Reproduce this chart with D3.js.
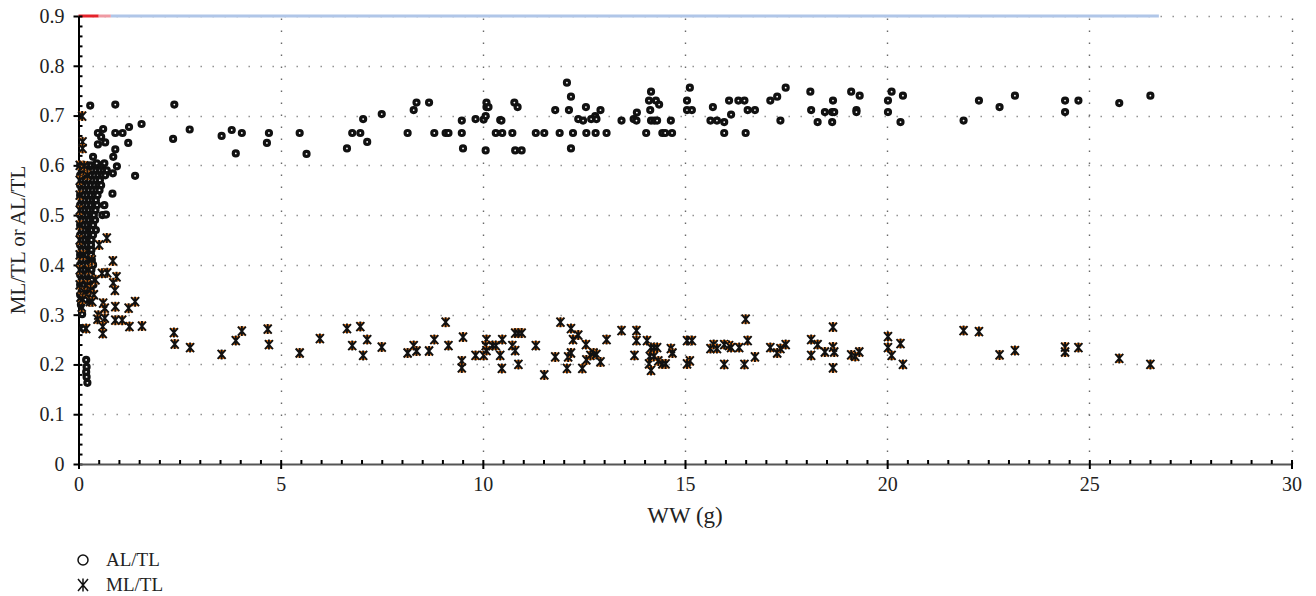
<!DOCTYPE html>
<html>
<head>
<meta charset="utf-8">
<script src="https://cdn.jsdelivr.net/npm/d3@7"></script>
<style>
  html, body { margin: 0; padding: 0; background: #fff; }
  svg { display: block; }
  text { font-family: "Liberation Serif", "DejaVu Serif", serif; fill: #222; }
</style>
</head>
<body>
<svg id="chart" width="1316" height="596"></svg>
<script>
// ---------- data ----------
const xTicks = [0, 5, 10, 15, 20, 25, 30];
const xTickLabels = ["0", "5", "10", "15", "20", "25", "30"];
const yTicks = [0, 0.1, 0.2, 0.3, 0.4, 0.5, 0.6, 0.7, 0.8, 0.9];
const yTickLabels = ["0", "0.1", "0.2", "0.3", "0.4", "0.5", "0.6", "0.7", "0.8", "0.9"];
const seriesNames = ["AL/TL", "ML/TL"];
const xTitle = "WW (g)";
const yTitle = "ML/TL or AL/TL";

// top reference line at 0.9 : breakpoints in WW units
const topLineBreaks = [0, 0.5, 0.8, 26.72];

// AL/TL points [WW, ratio]
const alData = [
  // dense cluster of small fish
  [0.04,0.60],[0.13,0.60],[0.22,0.60],[0.31,0.60],[0.40,0.60],[0.49,0.60],[0.58,0.60],
  [0.08,0.59],[0.17,0.59],[0.26,0.59],[0.35,0.59],[0.44,0.59],[0.53,0.59],[0.62,0.59],[0.70,0.59],
  [0.04,0.58],[0.13,0.58],[0.22,0.58],[0.31,0.58],[0.40,0.58],[0.49,0.58],[0.58,0.58],[0.66,0.58],
  [0.08,0.57],[0.17,0.57],[0.26,0.57],[0.35,0.57],[0.44,0.57],[0.53,0.57],
  [0.04,0.56],[0.13,0.56],[0.22,0.56],[0.31,0.56],[0.40,0.56],[0.49,0.56],[0.56,0.56],
  [0.08,0.55],[0.17,0.55],[0.26,0.55],[0.35,0.55],[0.44,0.55],[0.52,0.55],
  [0.04,0.54],[0.13,0.54],[0.22,0.54],[0.31,0.54],[0.40,0.54],[0.47,0.54],
  [0.08,0.53],[0.17,0.53],[0.26,0.53],[0.35,0.53],[0.43,0.53],
  [0.04,0.52],[0.13,0.52],[0.22,0.52],[0.31,0.52],[0.40,0.52],[0.46,0.52],
  [0.08,0.51],[0.17,0.51],[0.26,0.51],[0.35,0.51],[0.42,0.51],
  [0.04,0.50],[0.13,0.50],[0.22,0.50],[0.31,0.50],[0.38,0.50],
  [0.08,0.49],[0.17,0.49],[0.26,0.49],[0.35,0.49],[0.41,0.49],
  [0.04,0.48],[0.13,0.48],[0.22,0.48],[0.31,0.48],[0.36,0.48],
  [0.08,0.47],[0.17,0.47],[0.26,0.47],[0.33,0.47],
  [0.04,0.46],[0.13,0.46],[0.22,0.46],[0.31,0.46],[0.36,0.46],
  [0.08,0.45],[0.17,0.45],[0.26,0.45],[0.32,0.45],
  [0.04,0.44],[0.13,0.44],[0.22,0.44],[0.31,0.44],
  [0.08,0.43],[0.17,0.43],[0.26,0.43],[0.32,0.43],
  [0.04,0.42],[0.13,0.42],[0.22,0.42],[0.31,0.42],
  [0.08,0.41],[0.17,0.41],[0.26,0.41],[0.33,0.41],
  [0.04,0.40],[0.13,0.40],[0.22,0.40],[0.31,0.40],[0.36,0.40],
  [0.08,0.39],[0.17,0.39],[0.26,0.39],[0.32,0.39],
  [0.04,0.38],[0.13,0.38],[0.22,0.38],[0.31,0.38],
  [0.08,0.37],[0.17,0.37],[0.26,0.37],[0.33,0.37],
  [0.04,0.36],[0.13,0.36],[0.22,0.36],[0.31,0.36],[0.37,0.36],
  [0.08,0.35],[0.17,0.35],[0.26,0.35],[0.30,0.35],
  [0.04,0.34],[0.13,0.34],[0.22,0.34],
  [0.08,0.33],[0.17,0.33],[0.06,0.32],
  // small fish outside the cluster
  [0.29,0.720],[0.91,0.722],[2.37,0.722],[2.75,0.672],[2.34,0.653],
  [0.48,0.665],[0.61,0.673],[0.56,0.657],[0.66,0.646],[0.48,0.642],
  [0.91,0.665],[1.09,0.665],[1.25,0.677],[1.56,0.683],[1.23,0.645],[0.91,0.632],
  [0.86,0.617],[0.36,0.617],[0.45,0.604],[0.64,0.604],[0.95,0.598],[0.85,0.584],[1.40,0.579],
  [0.84,0.543],[0.64,0.520],[0.59,0.500],[0.68,0.501],[0.43,0.470],
  [0.09,0.301],[0.12,0.272],[0.19,0.209],[0.20,0.195],[0.19,0.185],[0.20,0.175],[0.22,0.163],
  // larger fish
  [3.54,0.659],[3.79,0.671],[3.89,0.624],[4.04,0.665],[4.71,0.665],[4.66,0.645],
  [5.47,0.665],[5.64,0.623],[6.64,0.634],[6.77,0.665],[6.97,0.665],[7.14,0.647],[7.04,0.693],
  [7.50,0.703],[8.29,0.711],[8.36,0.726],[8.67,0.726],[8.14,0.665],[8.80,0.665],[9.08,0.665],[9.15,0.665],
  [9.48,0.665],[9.48,0.690],[9.51,0.634],[9.82,0.693],[10.02,0.692],[10.07,0.699],[10.09,0.717],[10.09,0.726],
  [10.14,0.717],[10.07,0.630],[10.43,0.691],[10.46,0.690],[10.32,0.665],[10.48,0.665],[10.73,0.665],
  [10.78,0.726],[10.86,0.717],[10.80,0.630],[10.96,0.630],[11.31,0.665],[11.52,0.665],
  [12.08,0.766],[12.18,0.738],[11.79,0.711],[12.13,0.711],[12.55,0.717],[12.91,0.711],
  [12.36,0.693],[12.48,0.690],[12.68,0.693],[12.78,0.699],[12.81,0.693],
  [11.90,0.665],[12.23,0.665],[12.56,0.665],[12.79,0.665],[13.06,0.665],[12.18,0.634],
  [13.43,0.690],[13.73,0.693],[13.80,0.690],[13.81,0.706],[14.04,0.665],[14.16,0.748],
  [14.11,0.730],[14.28,0.730],[14.36,0.722],[14.14,0.711],[14.16,0.690],[14.24,0.690],[14.31,0.690],
  [14.44,0.665],[14.51,0.665],[14.68,0.665],[14.65,0.690],[15.12,0.756],[15.05,0.730],
  [15.05,0.711],[15.17,0.711],[15.63,0.690],[15.79,0.690],[15.97,0.687],[15.69,0.717],[16.14,0.702],
  [15.97,0.665],[16.09,0.730],[16.32,0.730],[16.47,0.730],[16.55,0.711],[16.73,0.711],[16.50,0.665],
  [17.11,0.730],[17.28,0.738],[17.49,0.756],[17.36,0.690],[18.10,0.748],[18.12,0.711],[18.28,0.687],
  [18.46,0.707],[18.64,0.707],[18.69,0.707],[18.66,0.730],[18.64,0.687],[19.11,0.748],[19.32,0.740],
  [19.24,0.711],[19.24,0.707],[20.02,0.730],[20.11,0.748],[20.39,0.740],[20.02,0.707],[20.33,0.687],
  [21.89,0.690],[22.27,0.730],[22.78,0.717],[23.16,0.740],[24.40,0.730],[24.40,0.707],[24.73,0.730],
  [25.74,0.725],[26.51,0.740]
];

// ML/TL points [WW, ratio]
const mlData = [
  // small fish
  [0.03,0.36],[0.03,0.39],[0.03,0.42],[0.03,0.45],[0.03,0.48],[0.03,0.51],[0.03,0.54],[0.03,0.57],[0.03,0.60],
  [0.12,0.59],[0.22,0.58],[0.05,0.335],[0.08,0.315],
  [0.15,0.345],[0.22,0.36],[0.30,0.35],[0.38,0.34],[0.25,0.39],[0.33,0.41],[0.12,0.42],[0.42,0.37],
  [0.09,0.699],[0.10,0.647],[0.10,0.634],[0.14,0.599],
  [0.70,0.454],[0.51,0.440],[0.85,0.408],[0.71,0.384],[0.94,0.376],[0.86,0.364],[0.90,0.349],[0.58,0.383],
  [0.10,0.331],[0.28,0.326],[0.34,0.326],[0.61,0.323],[0.65,0.313],[0.91,0.316],[1.24,0.313],[1.40,0.326],
  [0.49,0.299],[0.47,0.291],[0.65,0.293],[0.91,0.289],[1.08,0.289],[1.26,0.276],[1.57,0.277],
  [0.60,0.276],[0.60,0.262],[0.19,0.272],[2.36,0.264],[2.38,0.241],[2.76,0.234],
  // larger fish
  [3.54,0.220],[3.89,0.248],[4.04,0.267],[4.68,0.271],[4.71,0.240],[5.47,0.223],[5.97,0.252],
  [6.64,0.272],[6.97,0.276],[6.77,0.238],[7.14,0.250],[7.04,0.218],[7.50,0.235],[8.14,0.223],
  [8.29,0.238],[8.36,0.227],[8.67,0.227],[8.80,0.250],[9.08,0.285],[9.15,0.238],[9.51,0.255],
  [9.48,0.207],[9.48,0.193],[9.82,0.218],[10.02,0.218],[10.09,0.250],[10.07,0.238],[10.09,0.228],
  [10.24,0.238],[10.32,0.238],[10.48,0.250],[10.43,0.218],[10.47,0.192],[10.73,0.238],
  [10.80,0.263],[10.88,0.263],[10.96,0.263],[10.80,0.228],[10.88,0.200],[11.31,0.238],[11.52,0.179],
  [11.92,0.285],[12.18,0.272],[12.36,0.259],[12.23,0.250],[12.55,0.240],[13.06,0.250],
  [11.79,0.215],[12.11,0.215],[12.18,0.223],[12.08,0.192],[12.46,0.192],
  [12.56,0.209],[12.66,0.218],[12.74,0.223],[12.81,0.220],[12.91,0.205],
  [13.43,0.268],[13.80,0.268],[13.80,0.248],[14.06,0.248],[13.75,0.218],
  [14.16,0.234],[14.24,0.234],[14.31,0.234],[14.13,0.216],[14.11,0.201],[14.16,0.188],
  [14.34,0.207],[14.44,0.201],[14.52,0.201],[14.23,0.216],[14.65,0.232],[14.69,0.223],
  [15.05,0.248],[15.17,0.248],[15.12,0.207],[15.05,0.201],[15.63,0.232],[15.71,0.240],[15.79,0.232],
  [15.97,0.240],[16.09,0.238],[16.14,0.234],[16.34,0.234],[16.50,0.291],[16.55,0.248],[16.73,0.215],
  [15.97,0.200],[16.47,0.200],[17.11,0.234],[17.28,0.223],[17.36,0.232],[17.49,0.240],
  [18.12,0.250],[18.28,0.240],[18.46,0.225],[18.12,0.218],[18.66,0.275],[18.66,0.235],[18.69,0.225],
  [18.66,0.193],[19.11,0.219],[19.21,0.216],[19.31,0.225],[20.02,0.256],[20.02,0.234],[20.11,0.218],
  [20.33,0.242],[20.39,0.200],[21.89,0.268],[22.27,0.266],[22.78,0.219],[23.16,0.228],
  [24.40,0.235],[24.40,0.225],[24.73,0.234],[25.74,0.212],[26.51,0.200]
];

// ---------- drawing ----------
const svg = d3.select("#chart");
const x = d3.scaleLinear().domain([0, 30]).range([78.5, 1291.5]);
const y = d3.scaleLinear().domain([0, 0.9]).range([464, 16]);
const serif = '"Liberation Serif", "DejaVu Serif", serif';

// grid
const grid = svg.append("g");
grid.selectAll("line.h").data(yTicks.filter(d => d > 0)).join("line")
  .attr("x1", x(0) + 2).attr("x2", x(30) + 1)
  .attr("y1", d => Math.round(y(d)) + 0.5).attr("y2", d => Math.round(y(d)) + 0.5)
  .attr("stroke", "#8a8a8a").attr("stroke-width", 1.4)
  .attr("stroke-dasharray", "1.4 10.6");
grid.selectAll("line.v").data(xTicks.filter(d => d > 0)).join("line")
  .attr("x1", d => Math.round(x(d)) + 0.5).attr("x2", d => Math.round(x(d)) + 0.5)
  .attr("y1", y(0)).attr("y2", y(0.9))
  .attr("stroke", "#6a6a6a").attr("stroke-width", 1.4)
  .attr("stroke-dasharray", "1.4 10.6");

// top coloured line at 0.9
const topColors = ["#e5222a", "#ef9aa3", "#b0c6e8"];
svg.append("g").selectAll("line").data(d3.pairs(topLineBreaks)).join("line")
  .attr("x1", d => x(d[0])).attr("x2", d => x(d[1]))
  .attr("y1", y(0.9)).attr("y2", y(0.9))
  .attr("stroke", (d, i) => topColors[i]).attr("stroke-width", 3);

// axes
const yMinor = d3.range(0, 0.9001, 0.02);
const xMinor = d3.range(0, 30.001, 0.5);

const yAxisG = svg.append("g").attr("transform", `translate(${x(0)},0)`);
yAxisG.call(d3.axisLeft(y).tickValues(yTicks).tickFormat((d, i) => yTickLabels[i]).tickSizeInner(5).tickSizeOuter(0).tickPadding(9));
yAxisG.select(".domain").attr("stroke", "#000").attr("stroke-width", 2);
yAxisG.selectAll(".tick line").attr("stroke", "#000").attr("stroke-width", 2);
yAxisG.selectAll(".tick text").attr("font-size", 20).attr("fill", "#222").attr("font-family", serif);
const yMinorG = svg.append("g").attr("transform", `translate(${x(0)},0)`);
yMinorG.call(d3.axisRight(y).tickValues(yMinor).tickSize(4).tickFormat(""));
yMinorG.select(".domain").remove();
yMinorG.selectAll(".tick line").attr("stroke", "#000").attr("stroke-width", 2);

const xAxisG = svg.append("g").attr("transform", `translate(0,${y(0)})`);
xAxisG.call(d3.axisBottom(x).tickValues(xTicks).tickFormat((d, i) => xTickLabels[i]).tickSizeInner(5).tickSizeOuter(0).tickPadding(9));
xAxisG.select(".domain").attr("stroke", "#555").attr("stroke-width", 2.2);
xAxisG.selectAll(".tick line").attr("stroke", "#000").attr("stroke-width", 2);
xAxisG.selectAll(".tick text").attr("font-size", 20).attr("fill", "#222").attr("font-family", serif)
  .attr("dy", null).attr("y", 27);
const xMinorG = svg.append("g").attr("transform", `translate(0,${y(0)})`);
xMinorG.call(d3.axisTop(x).tickValues(xMinor).tickSize(4).tickFormat(""));
xMinorG.select(".domain").remove();
xMinorG.selectAll(".tick line").attr("stroke", "#000").attr("stroke-width", 2);

// axis titles
svg.append("text").attr("x", (x(0) + x(30)) / 2).attr("y", 523)
  .attr("text-anchor", "middle").attr("font-size", 23).text(xTitle);
svg.append("text").attr("transform", `translate(25,${(y(0) + y(0.9)) / 2}) rotate(-90)`)
  .attr("text-anchor", "middle").attr("font-size", 21).text(yTitle);

// markers
const starPath = "M-4,-4.5L4,4.5M4,-4.5L-4,4.5M0,-5L0,5";
const bowtie = "M-4,-4.5L4,-4.5L0,0L4,4.5L-4,4.5L0,0Z";

svg.append("g").selectAll("circle").data(alData).join("circle")
  .attr("cx", d => x(d[0])).attr("cy", d => y(d[1])).attr("r", 2.5)
  .attr("fill", "#fff").attr("stroke", "#111").attr("stroke-width", 3.2);

const ml = svg.append("g").selectAll("g").data(mlData).join("g")
  .attr("transform", d => `translate(${x(d[0])},${y(d[1])})`);
ml.append("path").attr("d", bowtie).attr("fill", "#f07d1c");
ml.append("path").attr("d", starPath).attr("stroke", "#111").attr("stroke-width", 1.9).attr("fill", "none");

// legend
const legendY = [560, 585];
const legend = svg.append("g");
legend.append("circle").attr("cx", 83).attr("cy", legendY[0]).attr("r", 5)
  .attr("fill", "none").attr("stroke", "#111").attr("stroke-width", 1.5);
legend.append("path").attr("transform", `translate(83,${legendY[1]})`)
  .attr("d", "M-5,-6L5,6M5,-6L-5,6M0,-6.5L0,6.5")
  .attr("stroke", "#111").attr("stroke-width", 1.5).attr("fill", "none");
legend.selectAll("text").data(seriesNames).join("text")
  .attr("x", 106).attr("y", (d, i) => legendY[i] + 6)
  .attr("font-size", 19).text(d => d);
</script>
</body>
</html>
